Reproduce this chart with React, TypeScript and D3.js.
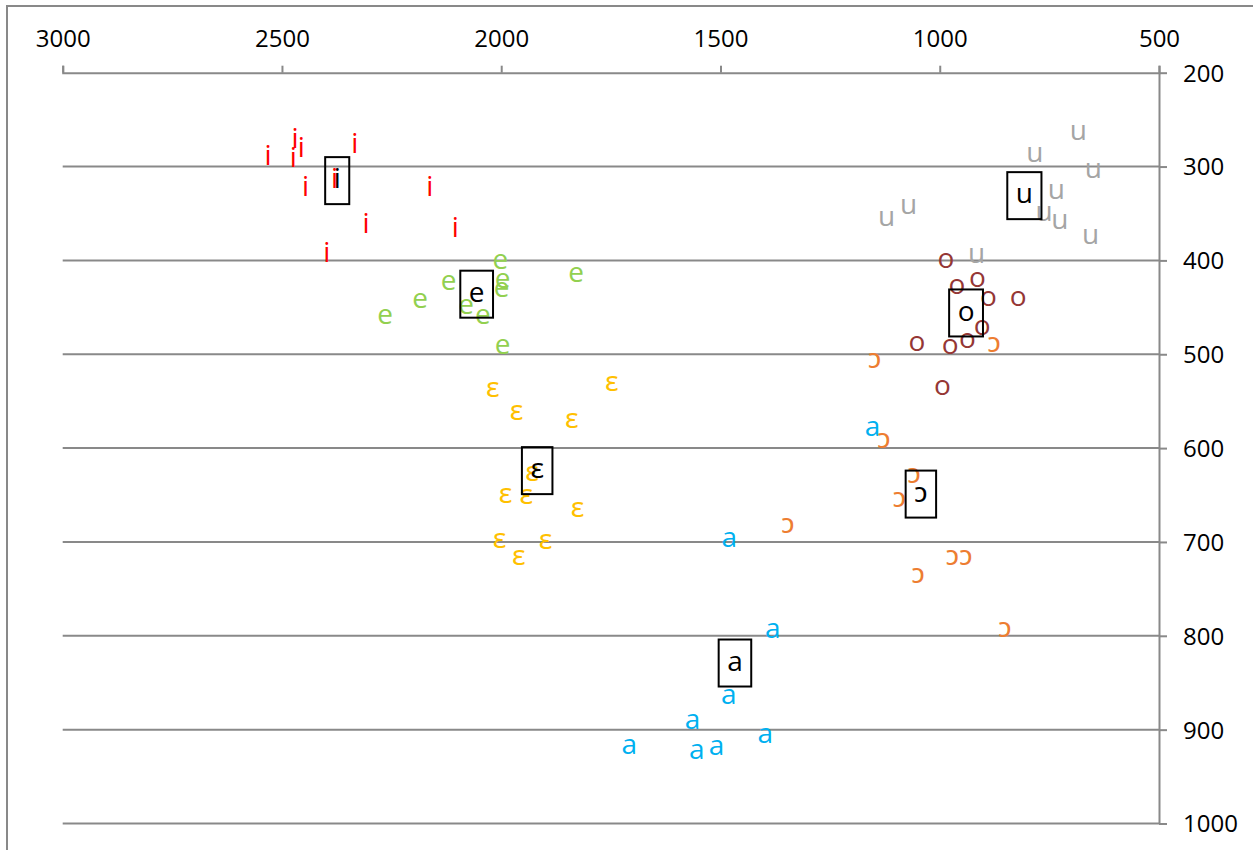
import React, { useEffect, useRef } from 'react';
import * as d3 from 'd3';

const W = 1253;
const H = 850;

// F2 axis (top, reversed) and F1 axis (right, downward)
const xTicks = [3000, 2500, 2000, 1500, 1000, 500];
const yTicks = [200, 300, 400, 500, 600, 700, 800, 900, 1000];

// Individual tokens, each as [F2, F1] in Hz
const iTokens = [
  [2532, 290], [2470, 272], [2474, 292], [2456, 282], [2334, 278], [2446, 323],
  [2380, 315], [2163, 323], [2308, 363], [2105, 367], [2398, 394],
];
const eTokens = [
  [2002, 401], [2120, 423], [1997, 421], [1999, 431], [1829, 415],
  [2185, 443], [2265, 460], [2080, 449], [2042, 460], [1997, 492],
];
const epsTokens = [
  [2019, 537], [1748, 531], [1965, 562], [1839, 571], [1930, 627], [1990, 650],
  [1943, 652], [1826, 665], [2004, 698], [1899, 699], [1960, 717],
];
const aTokens = [
  [1153, 579], [1480, 697], [1381, 794], [1481, 865], [1564, 891],
  [1708, 918], [1554, 923], [1509, 919], [1398, 906],
];
const openOTokens = [
  [876, 490], [1148, 507], [1127, 592], [1058, 629], [1092, 655],
  [1346, 682], [971, 717], [940, 717], [1049, 736], [851, 793],
];
const oTokens = [
  [986, 400], [914, 420], [961, 428], [889, 441], [821, 441],
  [903, 471], [937, 485], [1052, 488], [976, 492], [994, 535],
];
const uTokens = [
  [684, 264], [783, 287], [650, 304], [734, 326], [1071, 343],
  [1121, 355], [762, 350], [726, 358], [656, 375], [916, 395],
];

const vowels = ['i', 'e', 'ɛ', 'a', 'ɔ', 'o', 'u'];
const vowelColors = ['#FF0000', '#92D050', '#FFC000', '#00B0F0', '#ED7D31', '#953735', '#A5A5A5'];
const vowelTokens = [iTokens, eTokens, epsTokens, aTokens, openOTokens, oTokens, uTokens];

// Mean formant values per vowel (same order as `vowels`)
const meanF2 = [2374, 2056, 1918, 1467, 1043, 940, 807];
const meanF1 = [315, 436, 624, 829, 649, 456, 331];

const FONT = "'Open Sans', 'Noto Sans', 'DejaVu Sans', sans-serif";
const AXIS_COLOR = '#898989';

export default function App() {
  const ref = useRef<SVGSVGElement>(null);

  useEffect(() => {
    const svg = d3.select(ref.current);
    svg.selectAll('*').remove();

    const x = d3.scaleLinear().domain([3000, 500]).range([62.7, 1159]);
    const y = d3.scaleLinear().domain([200, 1000]).range([72.7, 823.5]);

    // chart frame
    svg.append('rect')
      .attr('x', 7).attr('y', 6)
      .attr('width', W + 40).attr('height', H + 40)
      .attr('fill', '#fff')
      .attr('stroke', AXIS_COLOR).attr('stroke-width', 2);

    // horizontal gridlines
    svg.append('g')
      .selectAll('line')
      .data(yTicks.slice(1))
      .join('line')
      .attr('x1', x(3000)).attr('x2', x(500))
      .attr('y1', (d) => y(d)).attr('y2', (d) => y(d))
      .attr('stroke', AXIS_COLOR).attr('stroke-width', 2);

    // top axis (F2)
    const xAxis = svg.append('g')
      .attr('transform', `translate(0,${y(200)})`)
      .call(d3.axisTop(x).tickValues(xTicks).tickSize(7).tickPadding(19).tickFormat(d3.format('d')));
    // right axis (F1)
    const yAxis = svg.append('g')
      .attr('transform', `translate(${x(500)},0)`)
      .call(d3.axisRight(y).tickValues(yTicks).tickSize(8).tickSizeOuter(0).tickPadding(16).tickFormat(d3.format('d')));

    [xAxis, yAxis].forEach((ax) => {
      ax.select('.domain').attr('stroke', AXIS_COLOR).attr('stroke-width', 2);
      ax.selectAll('.tick line').attr('stroke', AXIS_COLOR).attr('stroke-width', 2);
      ax.selectAll('.tick text')
        .attr('fill', '#000')
        .style('font-family', FONT)
        .style('font-size', '24px');
    });
    yAxis.selectAll('.tick text').attr('dy', '0.35em');

    // individual tokens as coloured vowel symbols
    vowels.forEach((v, k) => {
      svg.append('g')
        .selectAll('text')
        .data(vowelTokens[k])
        .join('text')
        .attr('x', (d) => x(d[0]))
        .attr('y', (d) => y(d[1]))
        .attr('dy', '0.27em')
        .attr('text-anchor', 'middle')
        .attr('fill', vowelColors[k])
        .style('font-family', FONT)
        .style('font-size', '28px')
        .text(v);
    });

    // vowel means, boxed
    vowels.forEach((v, k) => {
      const cx = x(meanF2[k]);
      const cy = y(meanF1[k]);
      const g = svg.append('g');
      const t = g.append('text')
        .attr('x', cx).attr('y', cy).attr('dy', '0.27em')
        .attr('text-anchor', 'middle')
        .attr('fill', '#000')
        .style('font-family', FONT)
        .style('font-size', '28px')
        .text(v);
      const w = (t.node() as SVGTextElement).getComputedTextLength() + 17;
      const h = 47;
      g.insert('rect', 'text')
        .attr('x', cx - w / 2).attr('y', cy - h / 2)
        .attr('width', w).attr('height', h)
        .attr('fill', 'none')
        .attr('stroke', '#000').attr('stroke-width', 2);
    });
  }, []);

  return (
    <svg
      ref={ref}
      width={W}
      height={H}
      style={{ position: 'absolute', left: 0, top: 0, background: '#fff' }}
    />
  );
}
